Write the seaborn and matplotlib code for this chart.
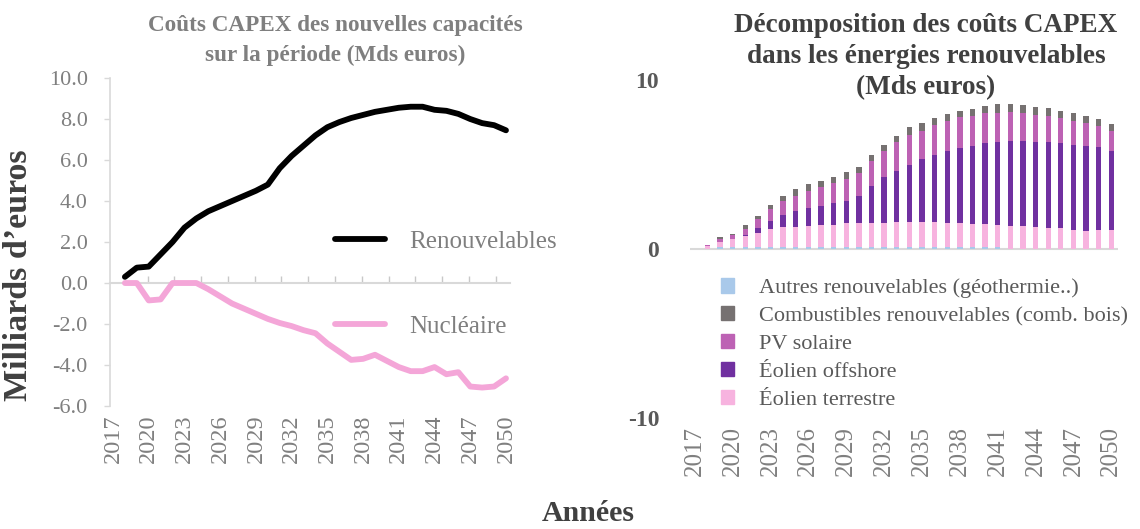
import pandas as pd
import matplotlib.pyplot as plt
from matplotlib.patches import Patch
from matplotlib.lines import Line2D
import seaborn as sns

sns.set_theme(style='white')
plt.rcParams['font.family'] = ['Liberation Serif', 'DejaVu Serif']

# years shown on both charts
years = [2018, 2019, 2020, 2021, 2022, 2023, 2024, 2025, 2026, 2027, 2028,
         2029, 2030, 2031, 2032, 2033, 2034, 2035, 2036, 2037, 2038, 2039,
         2040, 2041, 2042, 2043, 2044, 2045, 2046, 2047, 2048, 2049, 2050]
tick_years = [2017, 2020, 2023, 2026, 2029, 2032, 2035, 2038, 2041, 2044, 2047, 2050]

# left chart: CAPEX of new capacities (bn euros)
renouvelables = [0.3, 0.75, 0.8, 1.4, 2.0, 2.7, 3.15, 3.5, 3.75, 4.0, 4.25,
                 4.5, 4.8, 5.6, 6.2, 6.7, 7.2, 7.6, 7.85, 8.05, 8.2, 8.35,
                 8.45, 8.55, 8.6, 8.6, 8.45, 8.4, 8.25, 8.0, 7.8, 7.7, 7.45]
nucleaire = [0.0, 0.0, -0.85, -0.8, 0.0, 0.0, 0.0, -0.3, -0.65, -1.0, -1.25,
             -1.5, -1.75, -1.95, -2.1, -2.3, -2.45, -2.95, -3.35, -3.75, -3.7, -3.5,
             -3.8, -4.1, -4.3, -4.3, -4.1, -4.45, -4.35, -5.05, -5.1, -5.05, -4.65]

# right chart: breakdown of renewables CAPEX (bn euros)
autres = [0.0, 0.1, 0.1, 0.1, 0.1, 0.1, 0.1, 0.1, 0.1, 0.1, 0.1,
          0.1, 0.1, 0.1, 0.1, 0.1, 0.1, 0.1, 0.1, 0.1, 0.1, 0.1,
          0.1, 0.1, 0.0, 0.0, 0.0, 0.0, 0.0, 0.0, 0.0, 0.0, 0.0]
terrestre = [0.15, 0.34, 0.51, 0.67, 0.83, 1.07, 1.18, 1.22, 1.26, 1.32, 1.32,
             1.42, 1.42, 1.42, 1.42, 1.48, 1.48, 1.48, 1.48, 1.42, 1.42, 1.36,
             1.36, 1.32, 1.36, 1.36, 1.28, 1.22, 1.22, 1.12, 1.07, 1.12, 1.12]
offshore = [0.0, 0.0, 0.0, 0.05, 0.3, 0.49, 0.73, 0.93, 1.05, 1.12, 1.28,
            1.32, 1.62, 2.21, 2.72, 3.04, 3.39, 3.75, 3.98, 4.28, 4.44, 4.64,
            4.79, 4.93, 5.05, 5.05, 5.03, 5.09, 5.03, 5.03, 5.03, 4.89, 4.67]
pv = [0.11, 0.14, 0.24, 0.36, 0.53, 0.69, 0.83, 0.91, 1.03, 1.10, 1.18,
      1.28, 1.34, 1.48, 1.56, 1.70, 1.78, 1.68, 1.78, 1.78, 1.83, 1.78,
      1.78, 1.68, 1.68, 1.62, 1.62, 1.56, 1.48, 1.42, 1.34, 1.26, 1.18]
combustibles = [0.0, 0.12, 0.02, 0.24, 0.2, 0.26, 0.3, 0.37, 0.39, 0.39, 0.39,
                0.41, 0.36, 0.36, 0.36, 0.37, 0.45, 0.45, 0.39, 0.41, 0.37, 0.41,
                0.45, 0.53, 0.47, 0.49, 0.45, 0.45, 0.45, 0.45, 0.45, 0.45, 0.45]

lab_autres = 'Autres renouvelables (géothermie..)'
lab_comb = 'Combustibles renouvelables (comb. bois)'
lab_pv = 'PV solaire'
lab_off = 'Éolien offshore'
lab_ter = 'Éolien terrestre'

colors = {lab_autres: '#a9c9ea', lab_comb: '#767171', lab_pv: '#bd62b4',
          lab_off: '#7030a0', lab_ter: '#f7b3df'}

df_lines = pd.concat([
    pd.DataFrame({'annee': years, 'valeur': renouvelables, 'serie': 'Renouvelables'}),
    pd.DataFrame({'annee': years, 'valeur': nucleaire, 'serie': 'Nucléaire'}),
], ignore_index=True)

df_bars = pd.concat([
    pd.DataFrame({'annee': years, 'valeur': autres, 'source': lab_autres}),
    pd.DataFrame({'annee': years, 'valeur': terrestre, 'source': lab_ter}),
    pd.DataFrame({'annee': years, 'valeur': offshore, 'source': lab_off}),
    pd.DataFrame({'annee': years, 'valeur': pv, 'source': lab_pv}),
    pd.DataFrame({'annee': years, 'valeur': combustibles, 'source': lab_comb}),
], ignore_index=True)

grey = '#7f7f7f'
dark = '#404040'
light = '#d9d9d9'

fig = plt.figure(figsize=(11.4, 5.29), dpi=100)
ax = fig.add_axes([0.0965, 0.2325, 0.351, 0.620])
ax2 = fig.add_axes([0.605, 0.2098, 0.3754, 0.639])

# ---- left chart
sns.lineplot(data=df_lines, x='annee', y='valeur', hue='serie',
             palette={'Renouvelables': 'black', 'Nucléaire': '#f4a6d8'},
             linewidth=4.2, legend=False, ax=ax)
for l in ax.lines:
    l.set_solid_capstyle('round')
ax.set_xlim(2016.75, 2050.35)
ax.set_ylim(-6, 10)
ax.set_yticks([-6, -4, -2, 0, 2, 4, 6, 8, 10])
ax.set_yticklabels(['%.1f' % v for v in ax.get_yticks()])
ax.set_xticks(tick_years)
ax.set_xticklabels([str(y) for y in tick_years], rotation=90)
ax.tick_params(axis='x', length=0, labelsize=17.5, colors=grey, pad=6)
ax.tick_params(axis='y', length=4, width=1, color=light, labelsize=16,
               labelcolor=grey, pad=12, left=True)
for s in ['top', 'right', 'bottom']:
    ax.spines[s].set_visible(False)
ax.spines['left'].set_color(light)
ax.spines['left'].set_linewidth(1.2)

# zero line with its tick marks
secax = ax.secondary_xaxis(0.375)
secax.set_xticks([2019.9, 2022.15, 2024.4, 2026.65, 2028.9, 2031.15, 2033.4,
                  2035.65, 2037.9, 2040.15, 2042.4, 2044.65, 2046.9, 2049.15])
secax.tick_params(direction='in', length=5, width=1, color='#c8c8c8',
                  labelbottom=False, labeltop=False)
for s in secax.spines.values():
    s.set_color(light)
    s.set_linewidth(1.5)

ax.set_xlabel('')
ax.set_ylabel("Milliards d’euros", fontsize=24.5, fontweight='bold', color=dark)
ax.yaxis.set_label_coords(-0.19, 0.40)
ax.set_title('Coûts CAPEX des nouvelles capacités\nsur la période (Mds euros)',
             fontsize=16.7, fontweight='bold', color=grey, pad=12,
             linespacing=1.55, x=0.5625)

handles = [Line2D([], [], color='black', lw=4.2),
           Line2D([], [], color='#f4a6d8', lw=4.2)]
ax.legend(handles, ['Renouvelables', 'Nucléaire'], loc='upper left',
          bbox_to_anchor=(0.505, 0.605), frameon=False, fontsize=18,
          labelcolor=grey, handlelength=2.0, handletextpad=1.0,
          labelspacing=2.5)

# ---- right chart
stack_order = [lab_comb, lab_pv, lab_off, lab_ter, lab_autres]
sns.histplot(data=df_bars, x='annee', weights='valeur', hue='source',
             hue_order=stack_order, palette=colors, multiple='stack',
             discrete=True, shrink=0.42, alpha=1, linewidth=0,
             legend=False, ax=ax2)
ax2.axhline(0, color=light, lw=1.5, zorder=0)
ax2.set_xlim(2016.6, 2050.5)
ax2.set_ylim(-10, 10)
ax2.set_yticks([-10, 0, 10])
ax2.set_yticklabels(['-10', '0', '10'], fontweight='bold')
ax2.set_xticks(tick_years)
ax2.set_xticklabels([str(y) for y in tick_years], rotation=90)
ax2.tick_params(axis='x', length=0, labelsize=18, colors=grey, pad=6)
ax2.tick_params(axis='y', length=0, labelsize=17, colors='#595959', pad=22)
for s in ax2.spines.values():
    s.set_visible(False)
ax2.set_xlabel('')
ax2.set_ylabel('')
ax2.set_title('Décomposition des coûts CAPEX\ndans les énergies renouvelables\n(Mds euros)',
              fontsize=19.5, fontweight='bold', color=dark, pad=-10,
              linespacing=1.3, x=0.552)

legend_order = [lab_autres, lab_comb, lab_pv, lab_off, lab_ter]
patches = [Patch(color=colors[k]) for k in legend_order]
ax2.legend(patches, legend_order, loc='upper left', bbox_to_anchor=(0.026, 0.472),
           frameon=False, fontsize=16, labelcolor='#595959', handlelength=0.6,
           handleheight=0.6, handletextpad=1.1, labelspacing=0.36)

fig.text(0.516, 0.03, 'Années', ha='center', va='center', fontsize=21.5,
         fontweight='bold', color=dark)

plt.savefig('out.png', dpi=100)
